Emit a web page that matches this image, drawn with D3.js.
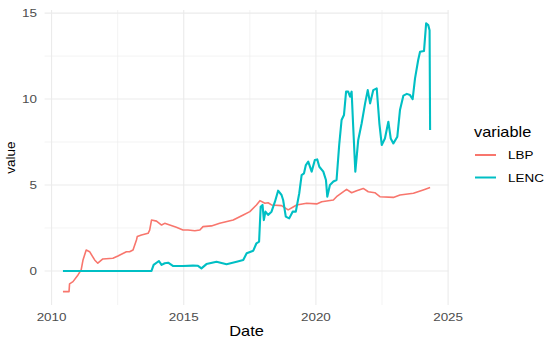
<!DOCTYPE html>
<html>
<head>
<meta charset="utf-8">
<script src="https://cdn.jsdelivr.net/npm/d3@7"></script>
<style>
  body { margin: 0; background: #fff; }
  svg text { font-family: "Liberation Sans", Arial, sans-serif; }
</style>
</head>
<body>
<svg id="chart" width="550" height="343"></svg>
<script>
// decimal years
let lbp_dates = [2010.43, 2010.66, 2010.68, 2010.81, 2011.0, 2011.12, 2011.19, 2011.31, 2011.44, 2011.63,
  2011.75, 2011.94, 2012.32, 2012.51, 2012.83, 2012.95, 2013.08, 2013.21, 2013.24, 2013.40,
  2013.65, 2013.71, 2013.78, 2013.97, 2014.16, 2014.28, 2014.47, 2014.72, 2014.97, 2015.16,
  2015.42, 2015.61, 2015.73, 2016.05, 2016.36, 2016.87, 2017.25, 2017.5, 2017.75, 2017.88,
  2018.07, 2018.19, 2018.32, 2018.70, 2018.95, 2019.27, 2019.65, 2020.03, 2020.22, 2020.66,
  2020.78, 2021.16, 2021.35, 2021.54, 2021.79, 2021.98, 2022.23, 2022.42, 2022.93, 2023.18,
  2023.69, 2024.06, 2024.32];
let lbp_values = [-1.2, -1.2, -0.75, -0.62, -0.23, 0.06, 0.64, 1.22, 1.12, 0.64,
  0.45, 0.70, 0.74, 0.87, 1.12, 1.12, 1.22, 1.8, 2.0, 2.09,
  2.19, 2.38, 2.96, 2.9, 2.67, 2.77, 2.67, 2.54, 2.38, 2.38,
  2.34, 2.38, 2.58, 2.62, 2.77, 2.96, 3.26, 3.45, 3.84, 4.09,
  3.94, 3.97, 3.84, 3.8, 3.55, 3.84, 3.94, 3.9, 4.03, 4.13,
  4.32, 4.75, 4.55, 4.67, 4.8, 4.61, 4.55, 4.32, 4.28, 4.42,
  4.52, 4.71, 4.85];

let lenc_dates = [2010.43, 2013.78, 2013.86, 2014.06, 2014.16, 2014.28, 2014.41, 2014.59, 2014.97, 2015.35,
  2015.54, 2015.67, 2015.86, 2016.24, 2016.62, 2017.0, 2017.25, 2017.38, 2017.63, 2017.75,
  2017.85, 2017.91, 2017.98, 2018.03, 2018.09, 2018.19, 2018.32, 2018.45, 2018.57, 2018.70,
  2018.76, 2018.86, 2018.99, 2019.12, 2019.24, 2019.37, 2019.46, 2019.55, 2019.62, 2019.71,
  2019.84, 2019.96, 2020.05, 2020.13, 2020.28, 2020.38, 2020.43, 2020.53, 2020.66, 2020.78,
  2020.88, 2020.97, 2021.06, 2021.14, 2021.22, 2021.29, 2021.35, 2021.41, 2021.49, 2021.60,
  2021.73, 2021.86, 2021.96, 2022.05, 2022.17, 2022.30, 2022.40, 2022.49, 2022.61, 2022.74,
  2022.83, 2022.93, 2023.08, 2023.18, 2023.31, 2023.44, 2023.56, 2023.66, 2023.75, 2023.87,
  2023.94, 2024.09, 2024.17, 2024.25, 2024.30, 2024.32];
let lenc_values = [0, 0, 0.35, 0.58, 0.35, 0.45, 0.48, 0.29, 0.29, 0.31,
  0.3, 0.15, 0.4, 0.54, 0.39, 0.54, 0.64, 1.03, 1.18, 1.61,
  1.71, 3.74, 3.84, 2.96, 3.45, 3.26, 3.45, 4.03, 4.67, 4.42,
  4.13, 3.16, 3.06, 3.45, 3.45, 4.52, 5.58, 5.68, 6.16, 6.36,
  5.78, 6.45, 6.49, 6.06, 5.78, 5.29, 4.32, 5.0, 5.2, 5.29,
  7.33, 8.78, 9.07, 10.43, 10.43, 10.14, 10.43, 8.39, 5.78, 7.62,
  8.59, 9.75, 10.52, 9.75, 10.52, 10.62, 8.59, 7.33, 7.71, 8.68,
  7.71, 7.42, 7.81, 9.36, 10.2, 10.3, 10.23, 10.0, 11.2, 12.27,
  12.75, 12.8, 14.4, 14.3, 14.0, 8.2];

let series_names = ['LBP', 'LENC'];
let series_colors = ['#F8766D', '#00BFC4'];
let x_ticks = [2010, 2015, 2020, 2025];
let x_minor = [2012.5, 2017.5, 2022.5];
let y_ticks = [0, 5, 10, 15];
let y_minor = [2.5, 7.5, 12.5];

function yearToDate(y){
    let yr = Math.floor(y);
    let start = new Date(yr, 0, 1), end = new Date(yr + 1, 0, 1);
    return new Date(start.getTime() + (y - yr) * (end - start));
}

let series = [
    {name: series_names[0], color: series_colors[0], width: 1.6,
     points: lbp_dates.map(function(d, i){ return {date: yearToDate(d), value: lbp_values[i]}; })},
    {name: series_names[1], color: series_colors[1], width: 2.1,
     points: lenc_dates.map(function(d, i){ return {date: yearToDate(d), value: lenc_values[i]}; })}
];

let svg = d3.select('#chart');
let panel = {left: 44.6, right: 448.5, top: 10, bottom: 305};
let stretch = 1.17;

// ggplot-like 5% expansion
let allDates = lbp_dates.concat(lenc_dates);
let allValues = lbp_values.concat(lenc_values);
let xr = d3.extent(allDates), yr = d3.extent(allValues);
let xpad = (xr[1] - xr[0]) * 0.05, ypad = (yr[1] - yr[0]) * 0.05;

let x = d3.scaleTime()
    .domain([yearToDate(xr[0] - xpad), yearToDate(xr[1] + xpad)])
    .range([panel.left, panel.right]);
let y = d3.scaleLinear()
    .domain([yr[0] - ypad, yr[1] + ypad])
    .range([panel.bottom, panel.top]);

let grid = svg.append('g');
grid.selectAll('.ym').data(y_minor).enter().append('line')
    .attr('x1', panel.left).attr('x2', panel.right)
    .attr('y1', function(d){ return y(d); }).attr('y2', function(d){ return y(d); })
    .attr('stroke', '#EBEBEB').attr('stroke-width', 0.6);
grid.selectAll('.xm').data(x_minor).enter().append('line')
    .attr('y1', panel.top).attr('y2', panel.bottom)
    .attr('x1', function(d){ return x(yearToDate(d)); }).attr('x2', function(d){ return x(yearToDate(d)); })
    .attr('stroke', '#EBEBEB').attr('stroke-width', 0.6);
grid.selectAll('.yM').data(y_ticks).enter().append('line')
    .attr('x1', panel.left).attr('x2', panel.right)
    .attr('y1', function(d){ return y(d); }).attr('y2', function(d){ return y(d); })
    .attr('stroke', '#EBEBEB').attr('stroke-width', 1.1);
grid.selectAll('.xM').data(x_ticks).enter().append('line')
    .attr('y1', panel.top).attr('y2', panel.bottom)
    .attr('x1', function(d){ return x(yearToDate(d)); }).attr('x2', function(d){ return x(yearToDate(d)); })
    .attr('stroke', '#EBEBEB').attr('stroke-width', 1.1);

let line = d3.line()
    .x(function(d){ return x(d.date); })
    .y(function(d){ return y(d.value); });

svg.append('g').selectAll('path')
    .data(series)
    .enter()
    .append('path')
    .attr('d', function(d){ return line(d.points); })
    .attr('fill', 'none')
    .attr('stroke', function(d){ return d.color; })
    .attr('stroke-width', function(d){ return d.width; })
    .attr('stroke-linejoin', 'round');

// axis labels
svg.append('g').selectAll('text')
    .data(x_ticks)
    .enter()
    .append('text')
    .attr('transform', function(d){ return 'translate(' + x(yearToDate(d)) + ',321) scale(' + stretch + ',1)'; })
    .attr('text-anchor', 'middle')
    .attr('font-size', '11.5px')
    .attr('fill', '#4D4D4D')
    .text(function(d){ return d; });

svg.append('g').selectAll('text')
    .data(y_ticks)
    .enter()
    .append('text')
    .attr('transform', function(d){ return 'translate(37,' + (y(d) + 4) + ') scale(' + stretch + ',1)'; })
    .attr('text-anchor', 'end')
    .attr('font-size', '11.5px')
    .attr('fill', '#4D4D4D')
    .text(function(d){ return d; });

svg.append('text')
    .attr('transform', 'translate(' + ((panel.left + panel.right) / 2) + ',336) scale(' + stretch + ',1)')
    .attr('text-anchor', 'middle')
    .attr('font-size', '14px')
    .attr('fill', '#000')
    .text('Date');

svg.append('text')
    .attr('transform', 'translate(15,' + ((panel.top + panel.bottom) / 2) + ') rotate(-90)')
    .attr('text-anchor', 'middle')
    .attr('font-size', '13.5px')
    .attr('fill', '#000')
    .text('value');

// legend
let legend = svg.append('g');
legend.append('text')
    .attr('transform', 'translate(474,137) scale(' + stretch + ',1)')
    .attr('font-size', '14px')
    .attr('fill', '#000')
    .text('variable');

let keys = legend.selectAll('.key')
    .data(series)
    .enter()
    .append('g')
    .attr('transform', function(d, i){ return 'translate(0,' + (155 + i * 22.5) + ')'; });
keys.append('line')
    .attr('x1', 475).attr('x2', 496)
    .attr('y1', 0).attr('y2', 0)
    .attr('stroke', function(d){ return d.color; })
    .attr('stroke-width', 2);
keys.append('text')
    .attr('transform', 'translate(508,4.3) scale(' + stretch + ',1)')
    .attr('font-size', '11.5px')
    .attr('fill', '#000')
    .text(function(d){ return d.name; });
</script>
</body>
</html>
